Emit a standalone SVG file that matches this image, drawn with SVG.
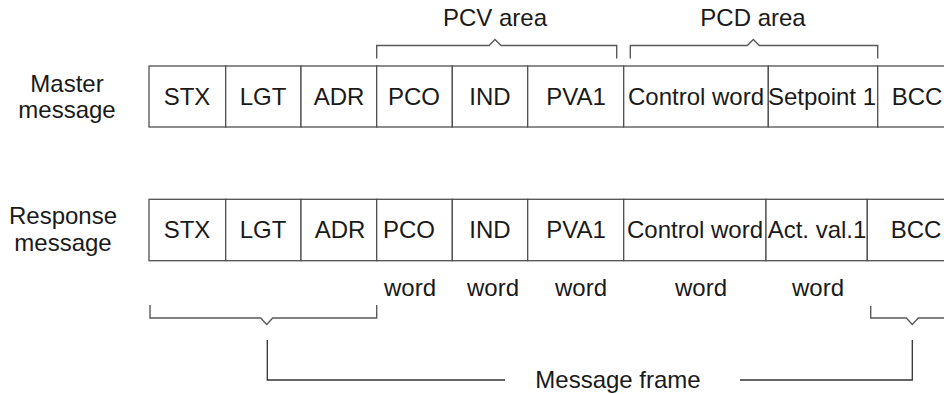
<svg xmlns="http://www.w3.org/2000/svg" width="944" height="394" viewBox="0 0 944 394">
<style>
text{font-family:"Liberation Sans",Arial,sans-serif;font-size:24px;fill:#1a1a1a;text-anchor:middle}
.cell{fill:#fff;stroke:#505050;stroke-width:1.3}
.ln{fill:none;stroke:#5a5a5a;stroke-width:1.4}
.fr{fill:none;stroke:#333;stroke-width:1.3}
</style>
<rect width="944" height="394" fill="#fff"/>
<g id="master-label"><text x="67" y="92">Master</text><text x="67" y="118">message</text></g>
<g id="response-label"><text x="63" y="224">Response</text><text x="63" y="251">message</text></g>
<g id="master-row">
<rect class="cell" x="149" y="66" width="76.7" height="61"/>
<rect class="cell" x="225.7" y="66" width="75.3" height="61"/>
<rect class="cell" x="301" y="66" width="75.7" height="61"/>
<rect class="cell" x="376.7" y="66" width="75.6" height="61"/>
<rect class="cell" x="452.3" y="66" width="75.4" height="61"/>
<rect class="cell" x="527.7" y="66" width="96" height="61"/>
<rect class="cell" x="623.7" y="66" width="144.6" height="61"/>
<rect class="cell" x="768.3" y="66" width="109.4" height="61"/>
<rect class="cell" x="877.7" y="66" width="80" height="61"/>
<text x="187" y="105">STX</text>
<text x="263" y="105">LGT</text>
<text x="339" y="105">ADR</text>
<text x="414" y="105">PCO</text>
<text x="490" y="105">IND</text>
<text x="576" y="105">PVA1</text>
<text x="696" y="105">Control word</text>
<text x="822" y="105">Setpoint 1</text>
<text x="917" y="105">BCC</text>
</g>
<g id="response-row">
<rect class="cell" x="149" y="199.3" width="76.7" height="61.4"/>
<rect class="cell" x="225.7" y="199.3" width="75.3" height="61.4"/>
<rect class="cell" x="301" y="199.3" width="75.7" height="61.4"/>
<rect class="cell" x="376.7" y="199.3" width="75.6" height="61.4"/>
<rect class="cell" x="452.3" y="199.3" width="75.4" height="61.4"/>
<rect class="cell" x="527.7" y="199.3" width="96" height="61.4"/>
<rect class="cell" x="623.7" y="199.3" width="142.3" height="61.4"/>
<rect class="cell" x="766" y="199.3" width="101.3" height="61.4"/>
<rect class="cell" x="867.3" y="199.3" width="90" height="61.4"/>
<text x="187" y="238">STX</text>
<text x="263" y="238">LGT</text>
<text x="340" y="238">ADR</text>
<text x="409" y="238">PCO</text>
<text x="490" y="238">IND</text>
<text x="576" y="238">PVA1</text>
<text x="695" y="238">Control word</text>
<text x="817" y="238">Act. val.1</text>
<text x="916" y="238">BCC</text>
</g>
<g id="word-labels">
<text x="410" y="296">word</text>
<text x="493" y="296">word</text>
<text x="581" y="296">word</text>
<text x="701" y="296">word</text>
<text x="818" y="296">word</text>
</g>
<g id="pcv-area"><text x="495" y="26">PCV area</text></g>
<g id="pcd-area"><text x="753" y="26">PCD area</text></g>
<g id="message-frame"><text x="618" y="388">Message frame</text></g>
<g id="connectors">
<path class="ln" d="M376.7 58.5V45.5H489L495 39.5L501 45.5H616.7V58.5"/>
<path class="ln" d="M630.3 58.5V45.5H747.3L753.3 39.5L759.3 45.5H877.7V58.5"/>
<path class="ln" d="M150 305V318H260.7L266.7 324.5L272.7 318H376.7V305"/>
<path class="ln" d="M870.7 306V318H906.3L912.3 324.5L918.3 318H944"/>
<path class="fr" d="M267.3 340V380H505"/>
<path class="fr" d="M740 380H912.3V340"/>
</g>
</svg>
